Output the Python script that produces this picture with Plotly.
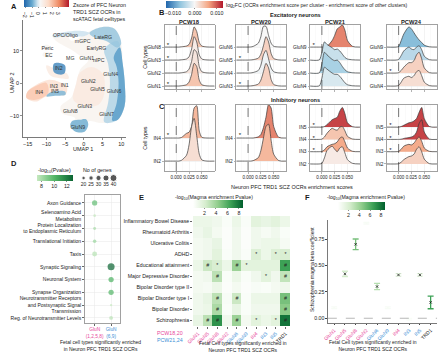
import plotly.graph_objects as go
from plotly.colors import sample_colorscale

W, H = 440, 354
FONT = "Liberation Sans"
TXT = "#1a1a1a"
PINK = "#e8479b"
BLUE = "#3d8fd6"

# ======================= DATA =======================
# ---- Panel A (UMAP regions, z-score) ----
UMAP_XTICKS = [-15, -10, -5, 0, 5, 10]
UMAP_YTICKS = [-10, 0, 10]
A_CBAR_TICKS = [-2, -1, 0, 1, 2, 3]
A_REGION_Z = [0.35, -0.3, -0.5, -1.3, -0.7, -1.0, 0.8, 0.7, -1.6, 1.1, 1.8, -0.9, 0.3, 0.3]
A_REGION_X = [
    [-3.2, 1.2, 4.7, 8.2, 10.0, 10.4, 11.0, 10.9, 9.1, 4.7, 1.2, 0.3, -2.3, -3.6, -2.3, -5.8, -6.2, -3.2, -1.8, -1.0, 1.2, -0.5, -3.2, -7.6, -8.4, -4.9],
    [-8.4, -5.0, -1.0, 1.5, 0.0, -4.0, -8.0],
    [5.5, 9.0, 10.4, 11.0, 10.9, 9.1, 5.5, 6.5, 7.0, 6.5],
    [8.0, 9.6, 10.4, 11.0, 10.9, 9.1, 7.6, 8.8, 9.3, 8.8],
    [1.5, 4.7, 8.2, 10.0, 9.0, 6.0, 3.0],
    [-3.6, -2.3, 0.3, 1.2, 0.5, -1.0, -3.0],
    [-1.2, 2.0, 5.0, 5.5, 4.0, 0.0, -2.8, -2.0],
    [-10.0, -7.0, -4.5, -4.0, -6.0, -9.0],
    [-8.0, -6.5, -5.0, -5.2, -6.5, -8.0],
    [-15.0, -12.8, -9.3, -6.7, -4.5, -4.9, -7.6, -10.2, -12.8, -15.3],
    [-15.0, -12.8, -10.0, -9.5, -12.5, -15.3],
    [-9.0, -5.0, -4.9, -7.6, -10.0],
    [-11.0, -9.5, -8.8, -9.8, -11.2],
    [-10.8, -9.2, -8.6, -9.6, -11.0],
]
A_REGION_Y = [
    [13.1, 15.8, 17.3, 16.8, 12.2, 6.1, -1.0, -7.1, -11.2, -12.2, -11.7, -14.8, -14.8, -12.8, -10.7, -9.2, -7.1, -4.1, 1.1, 4.2, 7.2, 8.2, 10.3, 13.3, 14.8, 15.3],
    [14.8, 15.8, 16.2, 15.5, 14.5, 14.6, 14.2],
    [10.5, 13.0, 6.0, -1.0, -7.0, -11.2, -12.0, -6.0, 0.0, 6.0],
    [8.0, 11.0, 6.0, -1.0, -7.0, -11.2, -11.4, -6.0, 0.0, 5.0],
    [15.5, 17.3, 16.8, 12.2, 11.0, 13.0, 14.0],
    [-12.8, -14.8, -14.8, -12.5, -11.0, -11.2, -11.5],
    [3.0, 5.0, 3.0, -3.0, -6.5, -7.0, -5.0, 0.0],
    [5.5, 4.0, 3.0, 1.5, 1.5, 2.5],
    [6.0, 6.3, 5.5, 3.0, 2.7, 3.5],
    [-2.5, -0.5, 1.1, 0.5, -1.0, -3.5, -3.5, -4.1, -5.6, -4.5],
    [-2.5, -0.8, 0.2, -3.0, -5.0, -4.5],
    [-2.8, -2.5, -3.5, -3.8, -4.0],
    [11.5, 11.8, 10.8, 10.2, 10.6],
    [9.4, 9.6, 8.6, 8.0, 8.5],
]
A_LABELS = ["OPC/Oligo", "mGPC", "LateRG", "EarlyRG", "MG", "GluN1", "nIPC", "Peric", "EC", "IN2",
            "IN3", "IN1", "IN5", "IN4", "GluN2", "GluN5", "GluN4", "GluN6", "GluN3", "GluN8", "GluN7", "GluN9"]
A_LABEL_X = [-4.9, -0.3, 5.2, 3.4, -3.6, 0.8, 4.0, -9.7, -9.3, -6.7,
             -8.0, -5.1, -7.7, -11.9, 1.2, 3.7, 7.2, 8.1, 0.3, -3.6, 6.1, -1.6]
A_LABEL_Y = [14.8, 12.8, 13.9, 10.6, 7.6, 7.6, 7.1, 10.6, 8.6, 4.6,
             -1.0, -0.8, -2.5, -2.8, 0.5, -2.0, 2.6, -2.5, -7.1, -8.6, -9.7, -13.7]

# ---- Panels B / C (ridgelines) ----
B_CBAR_TICKS = [-0.01, 0.0, 0.01]
RIDGE_X = [-0.023, -0.005, 0.0, 0.005, 0.01, 0.02, 0.025, 0.03, 0.035, 0.04, 0.045, 0.05, 0.06, 0.075]
RIDGE_XTICKS = [0.0, 0.025, 0.05]
B_TITLES = ["PCW18", "PCW20", "PCW21", "PCW24"]

B18_ROWS = ["GluN1", "GluN2", "GluN3", "GluN8"]
B18_FC = [0.004, 0.0015, 0.001, 0.004]
B18_STAR = [1, 0, 1, 1]
B18_DENS = [
    [0, 0, 0, 0, 0.02, 0.1, 0.3, 0.9, 1.75, 1.5, 0.45, 0.1, 0.01, 0],
    [0, 0, 0, 0, 0.02, 0.1, 0.3, 0.9, 1.8, 1.6, 0.5, 0.1, 0.01, 0],
    [0, 0, 0, 0, 0.02, 0.08, 0.25, 0.85, 1.8, 1.4, 0.4, 0.08, 0.01, 0],
    [0, 0, 0, 0, 0.02, 0.08, 0.2, 0.7, 1.55, 1.2, 0.35, 0.08, 0.01, 0],
]
B20_ROWS = ["GluN3", "GluN4", "GluN5", "GluN6"]
B20_FC = [0.003, -0.0005, 0.003, 0.0]
B20_STAR = [1, 0, 1, 0]
B20_DENS = [
    [0, 0, 0, 0.01, 0.03, 0.15, 0.45, 1.1, 1.75, 1.4, 0.5, 0.12, 0.01, 0],
    [0, 0, 0, 0.01, 0.04, 0.2, 0.6, 1.4, 1.75, 1.1, 0.4, 0.1, 0.01, 0],
    [0, 0, 0, 0.01, 0.03, 0.15, 0.45, 1.1, 1.8, 1.4, 0.5, 0.12, 0.01, 0],
    [0, 0, 0, 0.01, 0.05, 0.3, 0.8, 1.6, 1.6, 0.9, 0.3, 0.06, 0.01, 0],
]
B21_ROWS = ["GluN4", "GluN6", "GluN7", "GluN9"]
B21_FC = [-0.002, -0.005, -0.003, 0.008]
B21_STAR = [0, 0, 0, 1]
B21_DENS = [
    [0, 0.02, 0.6, 1.45, 1.3, 1.0, 0.9, 0.9, 0.75, 0.5, 0.25, 0.1, 0.02, 0],
    [0, 0.02, 0.7, 1.6, 1.4, 1.05, 0.95, 1.0, 0.8, 0.5, 0.25, 0.1, 0.02, 0],
    [0, 0.02, 0.6, 1.4, 1.2, 0.95, 0.8, 0.85, 0.7, 0.45, 0.2, 0.08, 0.02, 0],
    [0, 0, 0, 0, 0.05, 0.5, 0.9, 1.4, 1.55, 1.7, 1.3, 0.5, 0.05, 0],
]
B24_ROWS = ["GluN4", "GluN6", "GluN7", "GluN9"]
B24_FC = [0.002, 0.003, -0.004, -0.007]
B24_STAR = [0, 1, 0, 0]
B24_DENS = [
    [0, 0, 0.05, 0.3, 0.6, 0.75, 0.65, 0.8, 1.1, 1.2, 0.8, 0.3, 0.03, 0],
    [0, 0, 0.03, 0.2, 0.45, 0.8, 0.8, 0.95, 1.4, 1.6, 1.1, 0.4, 0.03, 0],
    [0, 0, 0.05, 0.35, 0.7, 1.0, 0.85, 0.8, 1.0, 1.1, 0.8, 0.3, 0.03, 0],
    [0, 0, 0.05, 0.5, 1.0, 1.55, 1.4, 1.1, 0.8, 0.55, 0.35, 0.15, 0.02, 0],
]
C18_ROWS = ["IN2", "IN4"]
C18_FC = [0.002, 0.005]
C18_STAR = [0, 1]
C18_DENS = [
    [0, 0, 0, 0, 0.03, 0.25, 0.7, 1.5, 1.85, 1.1, 0.3, 0.05, 0, 0],
    [0, 0, 0, 0, 0.02, 0.2, 0.25, 0.5, 1.3, 1.4, 0.3, 0.03, 0, 0],
]
C20_ROWS = ["IN2", "IN4"]
C20_FC = [0.005, 0.008]
C20_STAR = [0, 1]
C20_DENS = [
    [0, 0, 0, 0, 0.02, 0.15, 0.45, 1.0, 1.5, 1.6, 0.9, 0.3, 0.02, 0],
    [0, 0, 0, 0, 0, 0.05, 0.15, 0.45, 0.9, 1.45, 1.3, 0.5, 0.03, 0],
]
C21_ROWS = ["IN2", "IN3", "IN4", "IN5"]
C21_FC = [0.001, 0.006, 0.004, 0.011]
C21_STAR = [0, 1, 1, 1]
C21_DENS = [
    [0, 0, 0.05, 0.5, 1.1, 1.45, 1.2, 1.0, 1.3, 1.4, 0.9, 0.35, 0.05, 0],
    [0, 0, 0.02, 0.15, 0.4, 0.6, 0.65, 0.8, 1.1, 1.2, 0.8, 0.3, 0.03, 0],
    [0, 0, 0.02, 0.2, 0.5, 0.9, 0.8, 0.75, 1.0, 1.05, 0.7, 0.25, 0.03, 0],
    [0, 0, 0, 0.05, 0.2, 0.6, 0.7, 0.8, 1.3, 1.6, 1.1, 0.35, 0.03, 0],
]
C24_ROWS = ["IN2", "IN3", "IN4", "IN5"]
C24_FC = [0.003, 0.006, 0.011, 0.011]
C24_STAR = [0, 1, 1, 1]
C24_DENS = [
    [0, 0, 0.02, 0.15, 0.35, 0.6, 0.65, 0.8, 1.2, 1.4, 1.0, 0.4, 0.03, 0],
    [0, 0, 0.03, 0.2, 0.45, 0.6, 0.55, 0.7, 1.0, 1.2, 0.85, 0.3, 0.03, 0],
    [0, 0, 0, 0.02, 0.08, 0.15, 0.2, 0.3, 0.6, 1.3, 1.6, 0.6, 0.03, 0],
    [0, 0, 0, 0.05, 0.15, 0.35, 0.4, 0.5, 0.7, 1.2, 1.6, 0.7, 0.05, 0],
]

# ---- Panel D (pathway dot plot) ----
D_TERMS = ["Axon Guidance", "Selenoamino Acid<br>Metabolism", "Protein Localization<br>to Endoplasmic Reticulum",
           "Translational Initiation", "Taxis", "Synaptic Signaling", "Neuronal System", "Synapse Organization",
           "Neurotransmitter Receptors<br>and Postsynaptic Signal<br>Transmission", "Reg. of Neurotransmitter Levels"]
D_GROUPS = ["GluN<br>(1,2,5,8)", "GluN<br>(6,9)"]
D_GROUP_COLORS = [PINK, BLUE]
D_COL = [0, 0, 0, 0, 0, 1, 1, 1, 1, 1]
D_NGENES = [30, 15, 17, 20, 28, 40, 30, 30, 14, 22]
D_LOGP = [9.6, 7.3, 8.0, 8.3, 7.6, 13.0, 10.2, 10.0, 7.2, 7.5]
D_LEG_SIZES = [20, 25, 30, 35, 40]
D_CBAR_TICKS = [8, 10, 12]

# ---- Panels E / F (MAGMA) ----
CELLS = ["GluN1", "GluN5", "GluN8", "GluN2", "GluN6", "GluN9", "IN4", "IN3", "IN5", "TRD1"]
CELL_COLORS = [PINK, PINK, PINK, PINK, BLUE, BLUE, PINK, BLUE, BLUE, "#111111"]
TRAITS = ["Inflammatory Bowel Disease", "Rheumatoid Arthritis", "Ulcerative Colitis", "ADHD",
          "Educational attainment", "Major Depressive Disorder", "Bipolar Disorder type II",
          "Bipolar Disorder type I", "Bipolar Disorder", "Schizophrenia"]
E_LOGP = [
    [1.0, 1.0, 0.8, 0.3, 1.0, 0.3, 1.5, 1.2, 1.5, 1.0],
    [0.8, 1.2, 0.6, 0.2, 0.8, 0.2, 0.8, 0.5, 0.8, 0.3],
    [0.6, 0.8, 1.2, 0.2, 0.8, 0.2, 0.8, 1.0, 1.0, 0.5],
    [0.6, 0.8, 1.5, 0.3, 0.8, 0.3, 1.8, 1.0, 1.8, 2.0],
    [1.0, 2.5, 2.0, 1.0, 4.0, 1.5, 1.5, 1.5, 1.5, 6.5],
    [0.6, 0.8, 3.0, 0.3, 1.0, 0.3, 0.8, 1.5, 0.8, 2.8],
    [0.6, 0.5, 1.0, 0.2, 0.6, 0.2, 0.4, 0.3, 0.6, 0.8],
    [0.8, 1.2, 3.0, 0.4, 2.5, 0.3, 1.0, 1.0, 1.0, 5.0],
    [0.8, 1.0, 3.5, 0.3, 1.2, 0.3, 0.8, 0.8, 0.8, 4.5],
    [1.2, 3.0, 7.0, 0.8, 4.0, 0.6, 1.5, 1.0, 1.5, 8.0],
]
E_MARKS = [
    ["", "", "", "", "", "", "", "", "", ""],
    ["", "", "", "", "", "", "", "", "", ""],
    ["", "", "", "", "", "", "", "", "", ""],
    ["", "", "", "", "", "", "*", "", "*", "*"],
    ["", "#", "*", "", "#", "*", "", "", "", "#"],
    ["", "", "#", "", "", "", "", "*", "", "#"],
    ["", "", "", "", "", "", "", "", "", ""],
    ["", "", "#", "", "#", "", "", "", "", "#"],
    ["", "", "#", "", "", "", "", "", "", "#"],
    ["", "#", "#", "", "#", "", "*", "", "*", "#"],
]
E_CBAR_TICKS = [2, 4, 6, 8]
F_BETA = [0.10, 0.42, 0.70, 0.90, 0.30, 0.10, 0.41, -0.01, 0.41, 0.15]
F_SE = [0.008, 0.025, 0.05, 0.008, 0.03, 0.008, 0.012, 0.008, 0.012, 0.06]
F_LOGP = [0.4, 2.2, 5.0, 0.4, 3.2, 0.4, 1.5, 0.3, 1.5, 6.5]
F_YTICKS = [0.0, 0.25, 0.5, 0.75]

# ======================= helpers =======================
def fx(p):
    return p / W


def fy(p):
    return 1 - p / H


A_SCALE = [[0, "rgb(33,102,172)"], [0.18, "rgb(103,169,207)"], [0.3, "rgb(209,229,240)"],
           [0.36, "rgb(247,247,247)"], [0.55, "rgb(253,219,199)"], [0.78, "rgb(239,138,98)"],
           [1, "rgb(178,24,43)"]]
A_CMIN, A_CMAX = -2.3, 4.5
B_SCALE = [[0, "rgb(33,102,172)"], [0.25, "rgb(146,197,222)"], [0.5, "rgb(247,247,247)"],
           [0.75, "rgb(244,165,130)"], [1, "rgb(178,24,43)"]]
B_CMIN, B_CMAX = -0.013, 0.013
D_SCALE = [[0, "rgb(199,233,192)"], [0.5, "rgb(80,180,100)"], [1, "rgb(10,100,50)"]]
D_CMIN, D_CMAX = 7.2, 12.9
G_SCALE = [[0, "rgb(255,255,255)"], [0.25, "rgb(214,237,206)"], [0.5, "rgb(145,205,140)"],
           [0.75, "rgb(60,160,85)"], [1, "rgb(0,95,45)"]]
G_CMIN, G_CMAX = 0.0, 8.7


def scol(scale, v, lo, hi):
    t = min(1.0, max(0.0, (v - lo) / (hi - lo)))
    return sample_colorscale(scale, [t])[0]


def rgba(c, a):
    return c.replace("rgb(", "rgba(").replace(")", f",{a})")


fig = go.Figure()
annotations = []
shapes = []
layout_axes = {}


def ann(text, x, y, size=5.5, xanchor="center", yanchor="middle", color=TXT, angle=0, align="center"):
    annotations.append(dict(text=text, x=fx(x), y=fy(y), xref="paper", yref="paper", showarrow=False,
                            font=dict(size=size, color=color, family=FONT), xanchor=xanchor,
                            yanchor=yanchor, textangle=angle, align=align, borderpad=0))


def set_axes(k, xdom, ydom, xkw, ykw):
    xs = "xaxis" if k == 1 else f"xaxis{k}"
    ys = "yaxis" if k == 1 else f"yaxis{k}"
    base = dict(showgrid=False, zeroline=False, showline=False, ticks="", showticklabels=False,
                tickfont=dict(size=5.5, color=TXT, family=FONT), fixedrange=True)
    xd = dict(base, domain=[fx(xdom[0]), fx(xdom[1])], anchor="y" if k == 1 else f"y{k}")
    yd = dict(base, domain=[fy(ydom[1]), fy(ydom[0])], anchor="x" if k == 1 else f"x{k}")
    xd.update(xkw)
    yd.update(ykw)
    layout_axes[xs] = xd
    layout_axes[ys] = yd


def refs(k):
    return ("x", "y") if k == 1 else (f"x{k}", f"y{k}")


def hbar(x0, x1, ytop, thick, tickvals, ticktext=None):
    d = dict(orientation="h", x=fx(x0), xanchor="left", y=fy(ytop), yanchor="top",
             len=(x1 - x0) / W, lenmode="fraction", thickness=thick, thicknessmode="pixels",
             xpad=0, ypad=0, outlinewidth=0, ticks="outside", ticklen=1.5, tickwidth=0.6,
             tickcolor="#444", tickvals=tickvals, tickfont=dict(size=5.3, family=FONT, color=TXT),
             title=dict(text=""))
    if ticktext is not None:
        d["ticktext"] = ticktext
    return d


# ======================= Panel A =======================
set_axes(1, (16, 121), (20, 137),
         dict(range=[-16.3, 11.3], showline=True, linecolor="#222", linewidth=0.6, ticks="outside",
              ticklen=2, tickwidth=0.6, tickvals=UMAP_XTICKS, showticklabels=True),
         dict(range=[-16.5, 19.5], showline=True, linecolor="#222", linewidth=0.6, ticks="outside",
              ticklen=2, tickwidth=0.6, tickvals=UMAP_YTICKS, showticklabels=True))
xa, ya = refs(1)
for xs, ys, z in zip(A_REGION_X, A_REGION_Y, A_REGION_Z):
    c = scol(A_SCALE, z, A_CMIN, A_CMAX)
    fig.add_trace(go.Scatter(x=xs + [xs[0]], y=ys + [ys[0]], mode="lines", fill="toself",
                             fillcolor=rgba(c, 0.85), line=dict(width=0, shape="spline", smoothing=1.0),
                             xaxis=xa, yaxis=ya, hoverinfo="skip"))
fig.add_trace(go.Scatter(x=A_LABEL_X, y=A_LABEL_Y, mode="text", text=A_LABELS,
                         textfont=dict(size=5.2, color="#333", family=FONT), xaxis=xa, yaxis=ya, hoverinfo="skip"))
fig.add_trace(go.Scatter(x=[100, 100], y=[100, 100], mode="markers",
                         marker=dict(color=[A_CMIN, A_CMAX], coloraxis="coloraxis", size=1),
                         xaxis=xa, yaxis=ya, hoverinfo="skip"))
ann("UMAP 1", 77, 149, size=5.5)
ann("UMAP 2", 5, 83, size=5.5, angle=-90)
ann("Zscore of PFC Neuron<br>TRD1 SCZ OCRs in<br>scATAC fetal celltypes", 66, 1, size=5.3,
    xanchor="left", yanchor="top", align="left")

# ======================= Panels B / C =======================
B_XDOMS = [(160, 211), (233, 284), (308, 359), (386, 437)]
panelsB = [(B18_ROWS, B18_FC, B18_STAR, B18_DENS), (B20_ROWS, B20_FC, B20_STAR, B20_DENS),
           (B21_ROWS, B21_FC, B21_STAR, B21_DENS), (B24_ROWS, B24_FC, B24_STAR, B24_DENS)]
panelsC = [(C18_ROWS, C18_FC, C18_STAR, C18_DENS), (C20_ROWS, C20_FC, C20_STAR, C20_DENS),
           (C21_ROWS, C21_FC, C21_STAR, C21_DENS), (C24_ROWS, C24_FC, C24_STAR, C24_DENS)]


def ridge_axes(k, xdom, ydom, rows, yrng, xlabels):
    common = dict(showline=True, mirror=True, linecolor="#8a8a8a", linewidth=0.8, showgrid=True,
                  gridcolor="#e8e8e8", gridwidth=0.5, ticks="outside", ticklen=1.8, tickwidth=0.5,
                  tickcolor="#666")
    set_axes(k, xdom, ydom,
             dict(common, range=[-0.023, 0.075], tickvals=RIDGE_XTICKS, tickformat=".3f", tickangle=0,
                  showticklabels=xlabels, tickfont=dict(size=4.5, color=TXT, family=FONT),
                  minor=dict(tickvals=[-0.0125, 0.0125, 0.0375, 0.0625], showgrid=True,
                             gridcolor="#f3f3f3", gridwidth=0.4, ticks="")),
             dict(common, range=yrng, tickvals=list(range(len(rows))), ticktext=rows,
                  showticklabels=True, tickfont=dict(size=4.8, color=TXT, family=FONT)))


def add_ridges(k, rows, fcs, stars, dens):
    xa, ya = refs(k)
    n = len(rows)
    for i in reversed(range(n)):
        c = scol(B_SCALE, fcs[i], B_CMIN, B_CMAX)
        fig.add_trace(go.Scatter(x=RIDGE_X, y=[i] * len(RIDGE_X), mode="lines", line=dict(width=0),
                                 xaxis=xa, yaxis=ya, hoverinfo="skip"))
        fig.add_trace(go.Scatter(x=RIDGE_X, y=[i + h for h in dens[i]], mode="lines", fill="tonexty",
                                 fillcolor=c, line=dict(color="#3a3a3a", width=0.7, shape="spline", smoothing=0.7),
                                 xaxis=xa, yaxis=ya, hoverinfo="skip"))
    sy = [i + 0.1 for i in range(n) if stars[i]]
    fig.add_trace(go.Scatter(x=[-0.016] * len(sy), y=sy, mode="text", text=["*"] * len(sy),
                             textfont=dict(size=6, color="#111", family=FONT), xaxis=xa, yaxis=ya,
                             hoverinfo="skip"))
    shapes.append(dict(type="line", xref=xa, yref=f"{ya} domain", x0=0, x1=0, y0=0, y1=1,
                       line=dict(color="#222", width=0.6, dash="dash")))


for j, (rows, fcs, stars, dens) in enumerate(panelsB):
    k = 2 + j
    ridge_axes(k, B_XDOMS[j], (25, 89), rows, [-0.23, 4.7], False)
    add_ridges(k, rows, fcs, stars, dens)
    ann("<b>" + B_TITLES[j] + "</b>", (B_XDOMS[j][0] + B_XDOMS[j][1]) / 2, 21.5, size=5.8)

for j, (rows, fcs, stars, dens) in enumerate(panelsC):
    k = 6 + j
    yr = [-0.43, 2.43] if len(rows) == 2 else [-0.57, 4.8]
    ridge_axes(k, B_XDOMS[j], (105, 171), rows, yr, True)
    add_ridges(k, rows, fcs, stars, dens)

fig.add_trace(go.Scatter(x=[1, 1], y=[100, 100], mode="markers",
                         marker=dict(color=[B_CMIN, B_CMAX], coloraxis="coloraxis2", size=1),
                         xaxis="x2", yaxis="y2", hoverinfo="skip"))
ann("log<sub>2</sub>FC (OCRs enrichment score per cluster - enrichment score of other clusters)", 222, 5,
    size=5.1, xanchor="left")
ann("<b>Excitatory neurons</b>", 293, 15, size=5.6)
ann("<b>Inhibitory neurons</b>", 293, 100, size=5.6)
ann("Cell types", 140, 57, size=5.3, angle=-90)
ann("Cell types", 140, 138, size=5.3, angle=-90)
ann("Neuron PFC TRD1 SCZ OCRs enrichment scores", 290, 187, size=5.5)

# ======================= Panel D =======================
set_axes(10, (79, 115), (195, 323),
         dict(range=[-0.6, 1.55], showline=True, mirror=True, linecolor="#8a8a8a", linewidth=0.8,
              showgrid=True, gridcolor="#e8e8e8", gridwidth=0.5, tickvals=[0, 1], ticks="outside",
              ticklen=1.8, tickcolor="#666", tickangle=0,
              ticktext=[f'<span style="color:{c}">{t}</span>' for t, c in zip(D_GROUPS, D_GROUP_COLORS)],
              showticklabels=True, tickfont=dict(size=4.8, family=FONT)),
         dict(range=[9.4, -0.62], showline=True, mirror=True, linecolor="#8a8a8a", linewidth=0.8,
              showgrid=True, gridcolor="#e8e8e8", gridwidth=0.5, tickvals=list(range(len(D_TERMS))),
              ticktext=D_TERMS, ticks="outside", ticklen=1.8, tickcolor="#666", showticklabels=True,
              tickfont=dict(size=5.0, color=TXT, family=FONT)))
xa, ya = refs(10)
fig.add_trace(go.Scatter(x=D_COL, y=list(range(len(D_TERMS))), mode="markers",
                         marker=dict(size=D_NGENES, sizemode="diameter", sizeref=5.7, color=D_LOGP,
                                     coloraxis="coloraxis3", line=dict(width=0)),
                         xaxis=xa, yaxis=ya, hoverinfo="skip"))
set_axes(13, (74, 112), (172, 188), dict(range=[-0.5, 4.5]), dict(range=[16, 0]))
xa, ya = refs(13)
fig.add_trace(go.Scatter(x=list(range(5)), y=[6] * 5, mode="markers",
                         marker=dict(size=D_LEG_SIZES, sizemode="diameter", sizeref=5.7, color="#111"),
                         xaxis=xa, yaxis=ya, hoverinfo="skip"))
fig.add_trace(go.Scatter(x=list(range(5)), y=[12.5] * 5, mode="text", text=[str(s) for s in D_LEG_SIZES],
                         textfont=dict(size=5.0, color=TXT, family=FONT), xaxis=xa, yaxis=ya, hoverinfo="skip"))
ann("-log<sub>10</sub>(Pvalue)", 48, 170, size=5.3)
ann("No of genes", 92, 170, size=5.3)
ann("Fetal cell types significantly enriched<br>in Neuron PFC TRD1 SCZ OCRs", 95, 345, size=5.0)

# ======================= Panel E =======================
cell_ticktext = [f'<span style="color:{c}">{t}</span>' for t, c in zip(CELLS, CELL_COLORS)]
set_axes(11, (189, 288), (216, 326),
         dict(range=[-0.5, 9.5], tickvals=list(range(len(CELLS))), ticktext=cell_ticktext, tickangle=-45,
              showticklabels=True, ticks="outside", ticklen=1.8, tickcolor="#666",
              tickfont=dict(size=5.0, family=FONT)),
         dict(range=[9.5, -0.5], tickvals=list(range(len(TRAITS))), ticktext=TRAITS, showticklabels=True,
              ticks="outside", ticklen=1.8, tickcolor="#666", tickfont=dict(size=5.2, color=TXT, family=FONT)))
xa, ya = refs(11)
fig.add_trace(go.Heatmap(z=E_LOGP, x=list(range(len(CELLS))), y=list(range(len(TRAITS))),
                         coloraxis="coloraxis4", xaxis=xa, yaxis=ya, hoverinfo="skip"))
mx, my, mt = [], [], []
for r, row in enumerate(E_MARKS):
    for c, m in enumerate(row):
        if m:
            mx.append(c)
            my.append(r)
            mt.append("<i>#</i>" if m == "#" else "*")
fig.add_trace(go.Scatter(x=mx, y=my, mode="text", text=mt, textfont=dict(size=5.2, color="#222", family=FONT),
                         xaxis=xa, yaxis=ya, hoverinfo="skip"))
ann("-log<sub>10</sub>(Magma enrichment Pvalue)", 210, 197, size=5.2)
ann("Fetal Cell types significantly enriched in<br>Neuron PFC TRD1 SCZ OCRs", 240, 346, size=5.0)
ann("PCW18,20", 180, 333, size=5.3, xanchor="right", color=PINK)
ann("PCW21,24", 180, 340, size=5.3, xanchor="right", color=BLUE)

# ======================= Panel F =======================
set_axes(12, (326, 437), (220, 323),
         dict(range=[-0.6, 9.6], tickvals=list(range(len(CELLS))), ticktext=cell_ticktext, tickangle=-45,
              showticklabels=True, showline=True, linecolor="#222", linewidth=0.6, ticks="outside",
              ticklen=1.8, tickcolor="#444", tickfont=dict(size=5.0, family=FONT)),
         dict(range=[-0.045, 0.93], tickvals=F_YTICKS, tickformat=".2f", showticklabels=True, showline=True,
              linecolor="#222", linewidth=0.6, ticks="outside", ticklen=1.8, tickcolor="#444",
              tickfont=dict(size=5.2, color=TXT, family=FONT)))
xa, ya = refs(12)
shapes.append(dict(type="line", xref=f"{xa} domain", yref=ya, x0=0, x1=1, y0=0, y1=0,
                   line=dict(color="#9a9a9a", width=0.7, dash="dash")))
for i, (b, se, lp) in enumerate(zip(F_BETA, F_SE, F_LOGP)):
    c = scol(G_SCALE, lp, G_CMIN, G_CMAX)
    mc = "#111" if lp > 1.3 else rgba(c, 0.9)
    fig.add_trace(go.Scatter(x=[i], y=[b], mode="markers",
                             error_y=dict(type="data", array=[se], color=c, thickness=1.3, width=3),
                             marker=dict(symbol="x-thin", size=2.5, color=mc, line=dict(width=0.7, color=mc)),
                             xaxis=xa, yaxis=ya, hoverinfo="skip"))
fig.add_trace(go.Scatter(x=[100, 100], y=[100, 100], mode="markers",
                         marker=dict(color=[G_CMIN, G_CMAX], coloraxis="coloraxis5", size=1),
                         xaxis=xa, yaxis=ya, hoverinfo="skip"))
ann("Schizophrenia magma beta coefficient", 310, 270, size=5.0, angle=-90)
ann("-log<sub>10</sub>(Magma enrichment Pvalue)", 365, 198, size=5.2)
ann("Fetal Cell types significantly enriched in<br>Neuron PFC TRD1 SCZ OCRs", 372, 345, size=5.0)

# ======================= panel letters =======================
for letter, x, y in [("A", 3, 7), ("B", 153, 12), ("C", 153, 106), ("D", 3, 164), ("E", 133, 197), ("F", 302, 197)]:
    ann("<b>" + letter + "</b>", x, y, size=7.5, xanchor="left")

fig.update_layout(
    width=W, height=H, margin=dict(l=0, r=0, t=0, b=0), paper_bgcolor="white", plot_bgcolor="white",
    showlegend=False, hovermode=False, font=dict(family=FONT, size=5.5, color=TXT),
    annotations=annotations, shapes=shapes,
    coloraxis=dict(colorscale=A_SCALE, cmin=A_CMIN, cmax=A_CMAX,
                   colorbar=hbar(17, 63, 0.5, 6.5, A_CBAR_TICKS)),
    coloraxis2=dict(colorscale=B_SCALE, cmin=B_CMIN, cmax=B_CMAX,
                    colorbar=hbar(162, 220, 1, 6.5, B_CBAR_TICKS, ["\u22120.010", "0.000", "0.010"])),
    coloraxis3=dict(colorscale=D_SCALE, cmin=D_CMIN, cmax=D_CMAX,
                    colorbar=hbar(30, 67, 175, 6, D_CBAR_TICKS)),
    coloraxis4=dict(colorscale=G_SCALE, cmin=G_CMIN, cmax=G_CMAX,
                    colorbar=hbar(189, 240, 200, 8, E_CBAR_TICKS)),
    coloraxis5=dict(colorscale=G_SCALE, cmin=G_CMIN, cmax=G_CMAX,
                    colorbar=hbar(336, 384, 202, 8, E_CBAR_TICKS)),
    **layout_axes,
)

fig.write_html("out.html", config={"displayModeBar": False, "staticPlot": True},
               post_script="document.body.style.margin='0';document.body.style.overflow='hidden';")
